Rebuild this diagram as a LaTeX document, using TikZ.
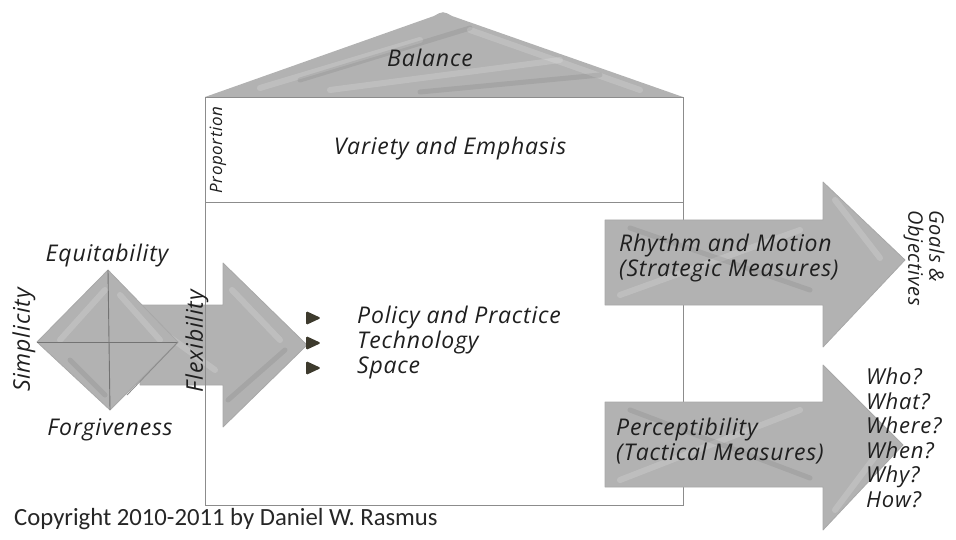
\documentclass[tikz,border=0pt]{standalone}
\usepackage{fontspec}
\setmainfont{Open Sans}
\newfontfamily\handfont{Open Sans}[LetterSpace=3.5]
\newfontfamily\copyfont{Carlito}
\usetikzlibrary{positioning}

\tikzset{
  sketch/.style={fill=black!30, draw=black!34, line width=0.8pt, line join=round},
  streak/.style={white, opacity=0.16, line width=6pt, line cap=round},
  smudge/.style={black, opacity=0.07, line width=5pt, line cap=round},
  frame/.style={draw=black!45, line width=0.7pt},
  hand/.style={font=\handfont\itshape\fontsize{23}{25}\selectfont, text=black!88, inner sep=0pt},
  small hand/.style={hand, font=\handfont\itshape\fontsize{17}{19}\selectfont},
  bulletmark/.style={fill=black!75!olive, rounded corners=1.5pt},
}

\begin{document}
\begin{tikzpicture}[x=1pt,y=-1pt]
    \useasboundingbox (0,0) rectangle (956,540);

    % roof
    \fill[black!30] (205,97) -- (434,16) .. controls (443,11) .. (452,16) -- (683,97) -- cycle;
    \draw[streak] (260,88) -- (420,40);
    \draw[streak] (330,90) -- (560,60);
    \draw[smudge] (300,80) -- (470,28);
    \draw[streak] (470,30) -- (640,90);
    \draw[smudge] (420,92) -- (600,75);

    % arrow into the house
    \fill[sketch] (140,305) -- (223,305) -- (223,263) -- (307,345) -- (223,427) -- (223,385) -- (140,385) -- cycle;
    \draw[streak] (232,290) -- (280,340);
    \draw[smudge] (228,400) -- (285,350);
    \draw[streak] (160,330) -- (215,370);

    % diamond
    \fill[sketch] (37,342) -- (108,270) -- (178,342) -- (110,410) -- cycle;
    \draw[streak] (60,340) -- (105,290);
    \draw[streak] (120,295) -- (160,340);
    \draw[smudge] (70,360) -- (105,395);
    \draw[black!55, line width=0.9pt] (108,270) -- (110,410);
    \draw[black!55, line width=0.9pt] (37,342) -- (178,342);
    \draw[black!45, line width=0.9pt] (178,342) -- (127,395);

    % house frame
    \draw[frame] (205,97) rectangle (683,505);
    \draw[frame] (205,202) -- (683,202);

    % arrows out of the house
    \fill[sketch] (605,220) -- (823,220) -- (823,182) -- (905,260) -- (823,347) -- (823,305) -- (605,305) -- cycle;
    \draw[streak] (620,295) -- (800,230);
    \draw[smudge] (630,228) -- (810,290);
    \draw[streak] (835,200) -- (880,258);
    \fill[sketch] (605,402) -- (823,402) -- (823,365) -- (903,445) -- (823,530) -- (823,487) -- (605,487) -- cycle;
    \draw[streak] (620,480) -- (800,410);
    \draw[smudge] (630,410) -- (810,478);
    \draw[streak] (835,510) -- (880,450);

    % texts
    \node[hand] (balance) at (430,58) {Balance};
    \node[hand] (variety) at (450,149) {Variety and Emphasis};
    \node[small hand, rotate=90] (proportion) at (218,150) {Proportion};

    \node[hand] (equit) at (107,256) {Equitability};
    \node[hand] (forgive) at (110,430) {Forgiveness};
    \node[hand, rotate=90] (simple) at (24,340) {Simplicity};
    \node[hand, rotate=90] (flex) at (197,341) {Flexibility};

    \foreach \y/\name in {318/Policy and Practice, 343/Technology, 368/Space} {
        \fill[bulletmark] (306,\y-7) -- (321,\y) -- (306,\y+7) -- cycle;
        \node[hand, anchor=west] at (357,\y) {\name};
    }

    \node[hand, anchor=west, align=left] (rhythm) at (619,258) {Rhythm and Motion\\(Strategic Measures)};
    \node[hand, anchor=west, align=left] (percept) at (616,441) {Perceptibility\\(Tactical Measures)};
    \node[hand, rotate=-90, align=left, font=\handfont\itshape\fontsize{20}{21}\selectfont] (goals) at (924,258) {Goals \&\\Objectives};
    \node[hand, anchor=north west, align=left, font=\handfont\itshape\fontsize{22}{24.5}\selectfont] (who) at (866,368) {Who?\\What?\\Where?\\When?\\Why?\\How?};

    \node[anchor=west, inner sep=0pt, font=\copyfont\fontsize{24.7}{28}\selectfont, text=black!85] (copy) at (14,519) {Copyright 2010-2011 by Daniel W. Rasmus};
\end{tikzpicture}
\end{document}
